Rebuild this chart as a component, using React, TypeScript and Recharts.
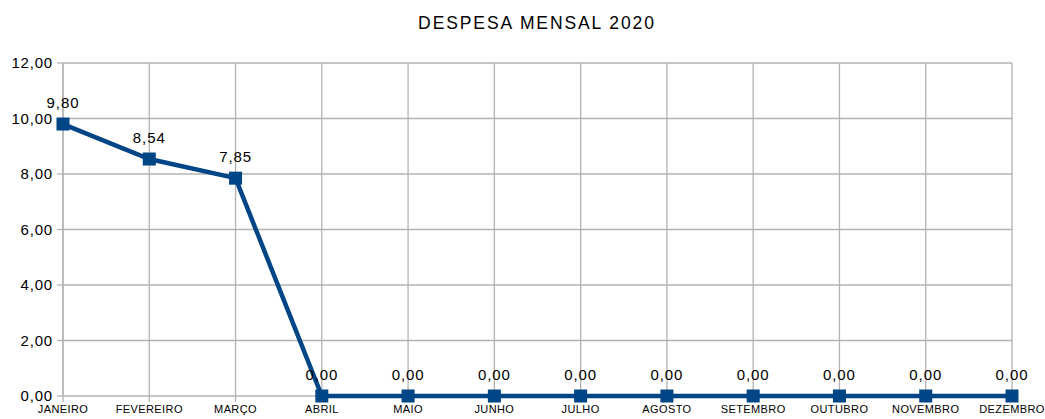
import { LineChart, Line, XAxis, YAxis, CartesianGrid, LabelList } from "recharts";

const months = [
  "JANEIRO",
  "FEVEREIRO",
  "MARÇO",
  "ABRIL",
  "MAIO",
  "JUNHO",
  "JULHO",
  "AGOSTO",
  "SETEMBRO",
  "OUTUBRO",
  "NOVEMBRO",
  "DEZEMBRO",
];
const despesa = [9.8, 8.54, 7.85, 0, 0, 0, 0, 0, 0, 0, 0, 0];
const yTicks = [0, 2, 4, 6, 8, 10, 12];

const data = months.map((mes, i) => ({ mes, valor: despesa[i] }));

const fmt = (v: number) => Number(v).toFixed(2).replace(".", ",");

const FONT = "'Liberation Sans', Arial, sans-serif";
const BLUE = "#004586";
const GRID = "#b3b3b3";

const SquareDot = (props: any) => {
  const { cx, cy, index } = props;
  return <rect key={`dot-${index}`} x={cx - 6.5} y={cy - 6.5} width={13} height={13} fill={BLUE} />;
};

export default function App() {
  return (
    <div
      style={{
        position: "absolute",
        left: 0,
        top: 0,
        width: 1045,
        height: 419,
        background: "#fff",
        fontFamily: FONT,
      }}
    >
      <div
        style={{
          position: "absolute",
          top: 13,
          left: 0,
          width: 1074,
          textAlign: "center",
          fontSize: 17.5,
          color: "#000",
          letterSpacing: 1.9,
        }}
      >
        DESPESA MENSAL 2020
      </div>
      <LineChart
        width={1045}
        height={419}
        data={data}
        margin={{ top: 63, right: 33, left: 0, bottom: 0 }}
      >
        <CartesianGrid stroke={GRID} strokeWidth={1.3} />
        <XAxis
          dataKey="mes"
          height={23}
          interval={0}
          axisLine={false}
          tickLine={{ stroke: GRID, strokeWidth: 1.3 }}
          tickSize={6}
          tickMargin={3}
          tick={{ fontSize: 11, fill: "#000", fontFamily: FONT, letterSpacing: 0.4 }}
        />
        <YAxis
          width={63}
          domain={[0, 12]}
          ticks={yTicks}
          tickFormatter={fmt}
          axisLine={false}
          tickLine={{ stroke: GRID, strokeWidth: 1.3 }}
          tickSize={6}
          tickMargin={4}
          tick={{ fontSize: 15, fill: "#000", fontFamily: FONT, letterSpacing: 0.8 }}
        />
        <Line
          type="linear"
          dataKey="valor"
          stroke={BLUE}
          strokeWidth={4.5}
          dot={SquareDot}
          activeDot={false}
          isAnimationActive={false}
        >
          <LabelList
            dataKey="valor"
            position="top"
            offset={16}
            formatter={(v: any) => fmt(v)}
            style={{ fontSize: 15, fill: "#000", fontFamily: FONT, letterSpacing: 0.9 }}
          />
        </Line>
      </LineChart>
    </div>
  );
}
